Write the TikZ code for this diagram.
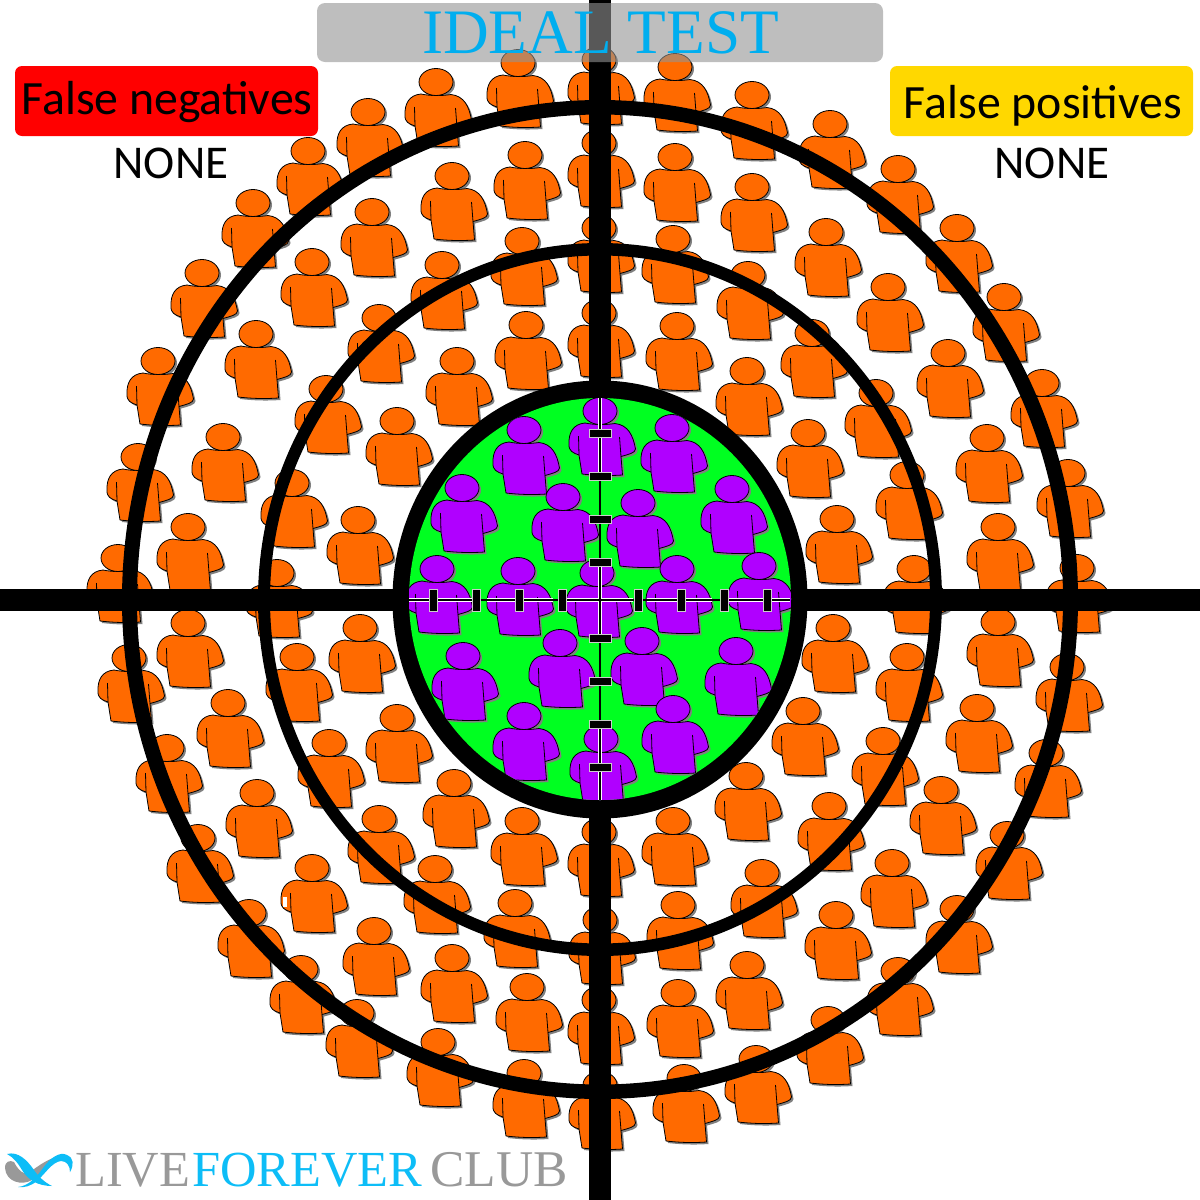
\documentclass[tikz,border=0pt]{standalone}
\usepackage{fontspec}
\setmainfont{Liberation Serif}
\newfontfamily\calib{Carlito}
\definecolor{porange}{HTML}{FF6A00}
\definecolor{ppurple}{HTML}{B000FF}
\definecolor{pgreen}{HTML}{00FF21}
\definecolor{titleblue}{HTML}{00AEEF}
\definecolor{logoblue}{HTML}{0DBDF7}
\definecolor{logogray}{HTML}{999999}
\definecolor{goldbox}{HTML}{FFD800}
\definecolor{boxgray}{RGB}{148,148,148}
\colorlet{pfill}{porange}
\newcommand{\personbody}{(-15,12) .. controls (-5,14) and (5,14) .. (15,12.5) .. controls (28,14) and (33,24) .. (35.5,38) .. controls (35.5,42) and (28,43.5) .. (21,45.5) -- (22.5,64) .. controls (8,65) and (-5,64.5) .. (-18,63) -- (-21,44) .. controls (-27,42) and (-31.5,40) .. (-31,33) .. controls (-31.5,22) and (-27,13) .. (-15,12) -- cycle}
\tikzset{
  person/.pic={
    \fill[gray,shift={(2,2)}] \personbody (0,0) ellipse [x radius=17,y radius=13.5];
    \filldraw[fill=pfill,draw=black,line width=.8pt,line join=round] \personbody;
    \draw[black,line width=.8pt] (19.5,26) -- (21,45.5) (-21.5,25) -- (-21,44);
    \filldraw[fill=pfill,draw=black,line width=.8pt] (0,0) ellipse [x radius=17,y radius=13.5];
  },
  labelbox/.style={rounded corners=7pt},
  labeltext/.style={font=\calib\fontsize{47.8}{48}\selectfont,text=black,inner sep=0pt,anchor=base},
  nonetext/.style={font=\calib\fontsize{47}{47}\selectfont,text=black,inner sep=0pt,anchor=base},
  logotext/.style={font=\fontsize{50.5}{50}\selectfont,inner sep=0pt,anchor=base west},
  tick/.style={fill=black,draw=gray!40,line width=.25pt},
  halo/.style={draw=white,line width=4pt},
  hair/.style={draw=black,line width=2pt},
}
\begin{document}
\begin{tikzpicture}[x=1pt,y=-1pt]
\useasboundingbox (0,0) rectangle (1200,1200);
\fill[white] (0,0) rectangle (1200,1200);
% orange people
\foreach \px/\py in {
518/63,599/60,675/67,752/95,436/82,368/112,830/124,308/151,898/169,253/203,957/228,202/273,1004/297,158/361,1042/383,138/457,1068/473,118/558,1077/568,
129/658,1067/667,167/748,1046/753,198/838,1007/835,249/913,957/909,301/969,898/971,357/1013,828/1020,438/1042,756/1059,524/1073,684/1078,600/1085,
525/155,599/143,675/157,452/176,752/187,372/212,826/232,312/262,888/287,256/334,948/353,223/437,987/438,188/527,998/527,188/623,998/622,228/703,977/708,
257/793,941/790,312/868,892/863,374/931,836/915,452/958,747/965,527/987,599/1000,678/993,
522/241,599/228,673/239,442/265,748/275,379/318,812/333,326/389,876/393,292/483,907/475,277/573,914/569,297/657,907/657,329/743,883/741,379/819,829/806,435/869,762/873,515/903,600/920,678/905,
526/325,599/313,677/326,457/361,747/371,397/421,808/433,358/520,837/519,360/628,833/628,397/718,803/711,454/783,746/776,522/821,599/832,673/821}
  \pic at (\px,\py) {person};
\fill[white] (283,897) rectangle (287,907);
% rings
\fill[black,even odd rule] (600,599.5) ellipse [x radius=478,y radius=499.5] (600,599.5) ellipse [x radius=463,y radius=485];
\fill[black,even odd rule] (600,599.5) ellipse [x radius=342,y radius=356.5] (600,599.5) ellipse [x radius=330,y radius=344];
% bullseye
\fill[black] (600,599.5) ellipse [x radius=207.5,y radius=219];
\fill[pgreen] (600,599) ellipse [x radius=191,y radius=201];
\begin{scope}
\clip (600,599) ellipse [x radius=191,y radius=201];
\colorlet{pfill}{ppurple}
\foreach \px/\py in {524/430,600/411,672/428,462/488,563/497,638/503,732/489,437/569,518/571,597/573,677/569,759/566,560/643,642/641,463/656,736/651,524/716,673/709,601/739}
  \pic at (\px,\py) {person};
\draw[halo] (600,398) -- (600,473) (600,563) -- (600,637) (600,727) -- (600,800);
\draw[halo] (409,599.5) -- (472,599.5) (487,599.5) -- (553,599.5) (567,599.5) -- (633,599.5) (647,599.5) -- (712,599.5) (728,599.5) -- (790,599.5);
\draw[hair] (600,398) -- (600,800);
\draw[hair] (409,599.5) -- (790,599.5);
\foreach \t in {433,476,519,562,638,681,724,767} {
  \path[tick] (589,\t-3.8) rectangle (611,\t+3.8);
  \path[tick] (\t-3.8,589) rectangle (\t+3.8,611);
}
\end{scope}
% cross hairs
\fill[black] (0,589) rectangle (392.5,610.5);
\fill[black] (807,589) rectangle (1200,610.5);
\fill[black] (589,0) rectangle (611,381);
\fill[black] (589,818) rectangle (611,1200);
% title
\fill[boxgray,opacity=.6,rounded corners=8pt] (317,3) rectangle (883,62);
\node[font=\fontsize{63.3}{63}\selectfont,text=titleblue,inner sep=0pt,anchor=base] (title) at (600.5,53.5) {IDEAL TEST};
% labels
\fill[red,labelbox] (15,66) rectangle (318,136);
\node[labeltext] (fn) at (167,114.5) {False negatives};
\node[nonetext] (fnnone) at (171,178.5) {NONE};
\fill[goldbox,labelbox] (890,66) rectangle (1193,136);
\node[labeltext] (fp) at (1043,118.5) {False positives};
\node[nonetext] (fpnone) at (1052,178.5) {NONE};
% logo
\fill[logogray] (5,1168) .. controls (5,1161) and (10,1160) .. (14,1162) .. controls (18,1170) and (24,1176) .. (30,1172) .. controls (38,1166) and (50,1157) .. (64,1155) .. controls (52,1160) and (42,1172) .. (32,1180) .. controls (22,1186) and (6,1182) .. (5,1168) -- cycle;
\fill[logoblue] (7,1154) .. controls (18,1151) and (27,1160) .. (34,1170) .. controls (38,1176) and (44,1182) .. (52,1186) .. controls (38,1186) and (28,1180) .. (22,1170) .. controls (18,1163) and (13,1157) .. (7,1154) -- cycle;
\fill[logoblue] (18,1187) .. controls (28,1186) and (36,1178) .. (43,1168) .. controls (50,1158) and (60,1151) .. (67,1155) .. controls (74,1158) and (74,1165) .. (70,1172) .. controls (70,1166) and (67,1161) .. (61,1161) .. controls (52,1162) and (45,1174) .. (37,1181) .. controls (31,1186) and (24,1188) .. (18,1187) -- cycle;
\node[logotext,text=logogray] (live) at (75,1186.5) {LIVE};
\node[logotext,text=logoblue] (forever) at (192,1186.5) {FOREVER};
\node[logotext,text=logogray,font=\fontsize{51.5}{51}\selectfont] (club) at (430,1186.5) {CLUB};
\end{tikzpicture}
\end{document}
